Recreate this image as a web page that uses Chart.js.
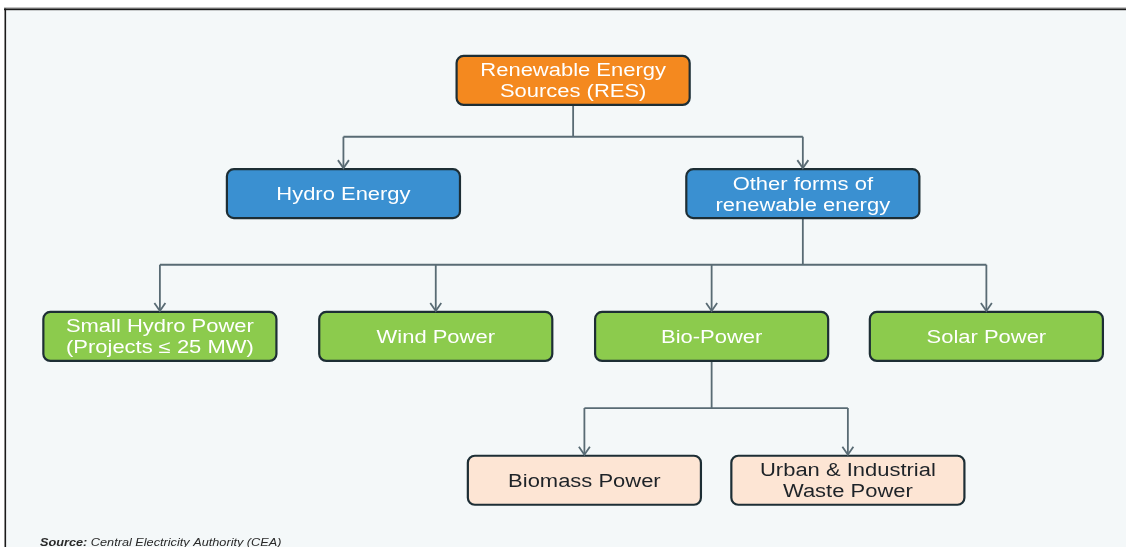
<!DOCTYPE html>
<html><head><meta charset="utf-8">
<script src="https://cdn.jsdelivr.net/npm/chart.js@4"></script>
<style>html,body{margin:0;padding:0;background:#fff;overflow:hidden}#wrap{width:1126px;height:547px;position:relative}</style>
</head><body><div id="wrap"><canvas id="c"></canvas></div>
<script>
// ---- data (diagram units: x 0..100 of width, y 0..100 of height) ----
const nodeLabels = [
  ["Renewable Energy", "Sources (RES)"],
  ["Hydro Energy"],
  ["Other forms of", "renewable energy"],
  ["Small Hydro Power", "(Projects \u2264 25 MW)"],
  ["Wind Power"],
  ["Bio-Power"],
  ["Solar Power"],
  ["Biomass Power"],
  ["Urban & Industrial", "Waste Power"]
];
const nodeParents = [-1, 0, 0, 2, 2, 2, 2, 5, 5];
const nodeLevels  = [0, 1, 1, 2, 2, 2, 2, 3, 3];
const nodeX       = [50.9, 30.5, 71.3, 14.2, 38.7, 63.2, 87.6, 51.9, 75.3];
const levelY      = [14.7, 35.4, 61.5, 87.8];
const junctionY   = [25.0, 48.4, 74.6];
const sourceText  = ["Source:", " Central Electricity Authority (CEA)"];

// ---- styles ----
const BOX_W = 20.7, BOX_H = 8.96;
const levelFill = ["#f4891f", "#3a90d1", "#8ccb4d", "#fde5d4"];
const levelText = ["#ffffff", "#ffffff", "#ffffff", "#1e2328"];
const BORDER = "#1d2e35", LINK = "#596b74";
const FONT = "Liberation Sans, Arial, sans-serif";

// connectors as line datasets
const datasets = [];
const childrenOf = {};
nodeParents.forEach((p, i) => { if (p >= 0) (childrenOf[p] = childrenOf[p] || []).push(i); });
Object.keys(childrenOf).forEach(pk => {
  const p = +pk, kids = childrenOf[p], lv = nodeLevels[p];
  const jy = junctionY[lv];
  const lineStyle = {showLine: true, borderColor: LINK, borderWidth: 1.8, pointRadius: 0, fill: false, tension: 0};
  datasets.push(Object.assign({data: [{x: nodeX[p], y: levelY[lv] + BOX_H / 2}, {x: nodeX[p], y: jy}]}, lineStyle));
  const xs = kids.map(k => nodeX[k]).concat([nodeX[p]]);
  datasets.push(Object.assign({data: [{x: Math.min(...xs), y: jy}, {x: Math.max(...xs), y: jy}]}, lineStyle));
  kids.forEach(k => {
    datasets.push(Object.assign({data: [{x: nodeX[k], y: jy}, {x: nodeX[k], y: levelY[nodeLevels[k]] - BOX_H / 2}]}, lineStyle));
  });
});

const frame = {
  id: 'frame',
  beforeDraw(chart) {
    const ctx = chart.ctx, W = chart.width, H = chart.height;
    ctx.save();
    ctx.fillStyle = "#ffffff"; ctx.fillRect(0, 0, W, H);
    ctx.fillStyle = "#f4f8f9"; ctx.fillRect(5, 9, W, H);
    ctx.fillStyle = "#8a8a8a"; ctx.fillRect(4, 7.5, W, 1.2);
    ctx.fillStyle = "#1a1a1a"; ctx.fillRect(4, 8.6, W, 1.6);
    ctx.fillRect(4.5, 8.6, 1.6, H);
    ctx.restore();
  }
};

const boxes = {
  id: 'boxes',
  afterDatasetsDraw(chart) {
    const ctx = chart.ctx, xs = chart.scales.x, ys = chart.scales.y;
    ctx.save();
    nodeLabels.forEach((lines, i) => {
      const lv = nodeLevels[i];
      const x0 = xs.getPixelForValue(nodeX[i] - BOX_W / 2), x1 = xs.getPixelForValue(nodeX[i] + BOX_W / 2);
      const y0 = ys.getPixelForValue(levelY[lv] - BOX_H / 2), y1 = ys.getPixelForValue(levelY[lv] + BOX_H / 2);
      ctx.beginPath();
      ctx.roundRect(x0, y0, x1 - x0, y1 - y0, 7);
      ctx.fillStyle = levelFill[lv]; ctx.fill();
      ctx.lineWidth = 2.2; ctx.strokeStyle = BORDER; ctx.stroke();
      const cx = (x0 + x1) / 2, cy = (y0 + y1) / 2;
      ctx.fillStyle = levelText[lv];
      ctx.font = "18px " + FONT;
      ctx.textAlign = "center"; ctx.textBaseline = "middle";
      const lh = 21;
      lines.forEach((t, j) => {
        const ty = cy + (j - (lines.length - 1) / 2) * lh + 1.5;
        ctx.save(); ctx.translate(cx, ty); ctx.scale(1.22, 1); ctx.fillText(t, 0, 0); ctx.restore();
      });
    });
    // arrowheads
    ctx.strokeStyle = LINK; ctx.lineWidth = 1.8;
    nodeParents.forEach((p, i) => {
      if (p < 0) return;
      const tx = xs.getPixelForValue(nodeX[i]), ty = ys.getPixelForValue(levelY[nodeLevels[i]] - BOX_H / 2) - 1;
      ctx.beginPath();
      ctx.moveTo(tx - 5.5, ty - 8); ctx.lineTo(tx, ty); ctx.lineTo(tx + 5.5, ty - 8);
      ctx.stroke();
    });
    // source note
    ctx.fillStyle = "#2a2a2a"; ctx.textAlign = "left"; ctx.textBaseline = "middle";
    ctx.save(); ctx.translate(40, 543.5); ctx.scale(1.21, 1);
    ctx.font = "italic bold 10.5px " + FONT;
    ctx.fillText(sourceText[0], 0, 0);
    const w0 = ctx.measureText(sourceText[0]).width;
    ctx.font = "italic 10.5px " + FONT;
    ctx.fillText(sourceText[1], w0, 0);
    ctx.restore();
    ctx.restore();
  }
};

new Chart(document.getElementById('c'), {
  type: 'scatter',
  data: {datasets},
  options: {
    responsive: true, maintainAspectRatio: false, animation: false,
    layout: {padding: 0},
    plugins: {legend: {display: false}, tooltip: {enabled: false}},
    scales: {
      x: {type: 'linear', min: 0, max: 100, display: false},
      y: {type: 'linear', min: 0, max: 100, reverse: true, display: false}
    }
  },
  plugins: [frame, boxes]
});
</script></body></html>
